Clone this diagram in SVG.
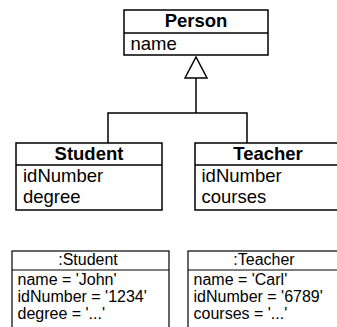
<svg xmlns="http://www.w3.org/2000/svg" width="337" height="327" viewBox="0 0 337 327">
<style>
text{font-family:"Liberation Sans",Arial,Helvetica,sans-serif;fill:#000}
.cls{fill:#fff;stroke:#000;stroke-width:1.5}
.obj{fill:#fff;stroke:#000;stroke-width:1.2}
.ln{stroke:#000;stroke-width:1.5;fill:none}
.lo{stroke:#000;stroke-width:1.2;fill:none}
.t{font-size:18.5px;font-weight:bold;text-anchor:middle}
.a{font-size:18.5px}
.ot{font-size:16px;text-anchor:middle}
.oa{font-size:16px}
</style>
<g id="connectors">
<polyline class="ln" points="108,143 108,113 247,113 247,143"/>
<line class="ln" x1="196" y1="113" x2="196" y2="78"/>
<polygon points="196,57 185,78 207,78" fill="#fff" stroke="#000" stroke-width="1.5"/>
</g>
<g id="person">
<rect class="cls" x="124" y="10" width="144" height="45"/>
<line class="ln" x1="124" y1="33" x2="268" y2="33"/>
<text class="t" x="196" y="27">Person</text>
<text class="a" x="130.5" y="50">name</text>
</g>
<g id="student">
<rect class="cls" x="16" y="143" width="146" height="67"/>
<line class="ln" x1="16" y1="165" x2="162" y2="165"/>
<text class="t" x="89" y="160">Student</text>
<text class="a" x="23" y="182">idNumber</text>
<text class="a" x="23" y="203">degree</text>
</g>
<g id="teacher">
<rect class="cls" x="195" y="143" width="146" height="67"/>
<line class="ln" x1="195" y1="165" x2="341" y2="165"/>
<text class="t" x="268" y="160">Teacher</text>
<text class="a" x="201.5" y="182">idNumber</text>
<text class="a" x="201.5" y="203">courses</text>
</g>
<g id="student-object">
<rect class="obj" x="12" y="251" width="157" height="90"/>
<line class="lo" x1="12" y1="270" x2="169" y2="270"/>
<text class="ot" x="88" y="265">:Student</text>
<text class="oa" x="17.5" y="285">name = 'John'</text>
<text class="oa" x="17.5" y="302">idNumber = '1234'</text>
<text class="oa" x="17.5" y="319">degree = '...'</text>
</g>
<g id="teacher-object">
<rect class="obj" x="188" y="251" width="157" height="90"/>
<line class="lo" x1="188" y1="270" x2="345" y2="270"/>
<text class="ot" x="264" y="265">:Teacher</text>
<text class="oa" x="193.5" y="285">name = 'Carl'</text>
<text class="oa" x="193.5" y="302">idNumber = '6789'</text>
<text class="oa" x="193.5" y="319">courses = '...'</text>
</g>
</svg>
